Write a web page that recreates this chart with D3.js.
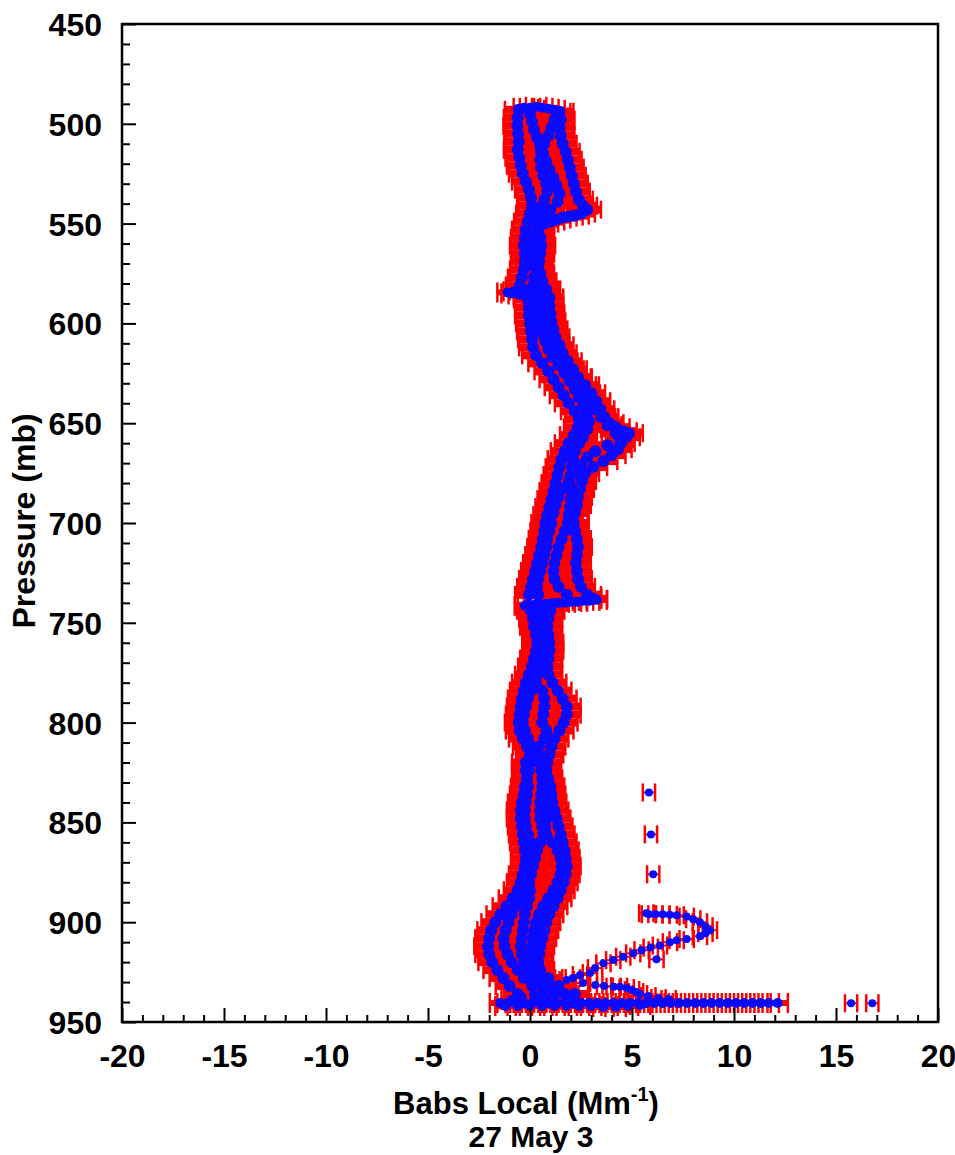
<!DOCTYPE html>
<html>
<head>
<meta charset="utf-8">
<script src="https://cdn.jsdelivr.net/npm/d3@7"></script>
<style>
  html, body { margin: 0; padding: 0; background: #fff; }
  svg { display: block; }
  text { font-family: "Liberation Sans", Arial, Helvetica, sans-serif; font-weight: bold; fill: #000; }
</style>
</head>
<body>
<svg id="chart" width="955" height="1155"></svg>
<script>
// ---------------- DATA (pressure mb, Babs Mm^-1) ----------------
const xTicks = [-20, -15, -10, -5, 0, 5, 10, 15, 20];
const yTicks = [450, 500, 550, 600, 650, 700, 750, 800, 850, 900, 950];
const xTitle = "Babs Local (Mm";
const xTitleSup = "-1";
const subTitle = "27 May 3";
const yTitle = "Pressure (mb)";

const profileA = [[493,-0.55],[497,-0.6],[501,-0.62],[505,-0.58],[509,-0.55],[513,-0.6],[517,-0.52],[521,-0.45],[525,-0.35],[529,-0.2],[533,-0.05],[537,0.05],[541,0.1],[545,0.0],[549,-0.1],[553,-0.2],[557,-0.25],[561,-0.3],[565,-0.25],[569,-0.25],[573,-0.3],[577,-0.4],[581,-0.5],[588,-0.1],[592,-0.05],[596,-0.05],[600,0.0],[604,0.05],[608,0.1],[612,0.15],[616,0.3],[620,0.6],[624,0.9],[628,1.15],[632,1.4],[636,1.65],[640,1.9],[644,2.2],[648,2.4],[652,2.35],[656,2.15],[660,1.9],[664,1.7],[668,1.55],[672,1.45],[676,1.35],[680,1.25],[684,1.15],[688,1.05],[692,0.95],[696,0.85],[700,0.75],[704,0.7],[708,0.62],[712,0.55],[716,0.45],[720,0.35],[724,0.25],[728,0.15],[732,0.05],[736,-0.05],[744,0.05],[748,0.15],[752,0.3],[756,0.4],[760,0.4],[764,0.35],[768,0.25],[772,0.1],[776,-0.05],[780,-0.2],[784,-0.3],[788,-0.4],[792,-0.45],[796,-0.5],[800,-0.55],[804,-0.5],[808,-0.35],[812,-0.15],[816,0.0],[820,0.05],[824,-0.05],[828,-0.15],[832,-0.25],[836,-0.3],[840,-0.4],[844,-0.45],[848,-0.45],[852,-0.4],[856,-0.35],[860,-0.3],[864,-0.25],[868,-0.2],[872,-0.25],[876,-0.35],[880,-0.45],[884,-0.6],[888,-0.85],[892,-1.15],[896,-1.45],[900,-1.7],[904,-1.9],[908,-2.0],[912,-2.05],[916,-2.0],[920,-1.85],[924,-1.6],[928,-1.3],[932,-1.0],[936,-0.6]];

const profileB = [[495,0.0],[499,0.1],[503,0.2],[507,0.35],[511,0.5],[515,0.65],[519,0.8],[523,0.95],[527,1.15],[531,1.3],[535,1.45],[539,1.35],[543,1.0],[547,0.7],[551,0.45],[555,0.3],[559,0.25],[563,0.2],[567,0.3],[571,0.4],[575,0.5],[579,0.6],[583,0.7],[587,0.7],[591,0.75],[595,0.8],[599,0.9],[603,1.0],[607,1.1],[611,1.25],[615,1.4],[619,1.65],[623,1.95],[627,2.3],[631,2.7],[635,3.0],[639,3.25],[643,3.45],[647,3.65],[650,3.9],[652,4.2],[654,4.55],[655,4.85],[657,4.7],[660,4.45],[663,4.3],[666,4.0],[669,3.6],[672,3.1],[675,2.7],[679,2.55],[683,2.45],[687,2.35],[691,2.3],[695,2.2],[700,2.15],[704,2.2],[708,2.3],[712,2.35],[716,2.3],[720,2.25],[724,2.3],[728,2.35],[732,2.5],[736,2.8],[738,3.1],[744,1.0],[748,0.9],[752,0.85],[756,0.9],[760,0.95],[764,0.95],[768,0.9],[772,0.85],[776,0.9],[780,1.1],[784,1.35],[788,1.6],[792,1.8],[796,1.8],[800,1.65],[804,1.45],[808,1.2],[812,1.05],[816,0.95],[820,0.85],[824,0.8],[828,0.8],[832,0.85],[836,0.9],[840,0.9],[844,0.85],[848,0.8],[852,0.75],[856,0.65],[860,0.5],[864,0.35],[868,0.25],[872,0.15],[876,0.05],[880,-0.05],[884,-0.2],[888,-0.45],[892,-0.7],[896,-0.9],[900,-1.05],[904,-1.2],[908,-1.3],[912,-1.25],[916,-1.1],[920,-0.9],[924,-0.6],[928,-0.3],[932,0.1],[936,0.6]];

const profileC = [[494,1.3],[498,1.2],[502,1.05],[506,0.9],[510,0.7],[514,0.55],[518,0.5],[522,0.55],[526,0.65],[530,0.8],[534,0.85],[538,0.7],[542,0.5],[546,0.35],[550,0.35],[553,0.4],[557,0.5],[561,0.55],[565,0.5],[569,0.45],[573,0.35],[577,0.2],[581,0.15],[585,0.2],[589,0.3],[593,0.35],[597,0.45],[601,0.5],[605,0.6],[609,0.75],[613,0.9],[617,1.1],[621,1.4],[625,1.7],[629,1.95],[633,2.2],[637,2.4],[641,2.6],[645,2.8],[649,2.9],[653,2.8],[657,2.6],[660,2.4],[664,2.2],[668,2.1],[672,2.05],[676,2.0],[680,1.95],[684,2.0],[688,2.0],[692,1.95],[696,1.9],[700,1.85],[704,1.7],[708,1.55],[712,1.4],[716,1.3],[720,1.2],[724,1.15],[728,1.2],[732,1.4],[736,1.8],[744,0.6],[748,0.55],[752,0.6],[756,0.65],[760,0.7],[764,0.65],[768,0.55],[772,0.45],[776,0.35],[780,0.2],[784,0.05],[788,-0.1],[792,-0.2],[796,-0.3],[800,-0.35],[804,-0.25],[808,-0.1],[812,0.1],[816,0.3],[820,0.45],[824,0.55],[828,0.6],[832,0.6],[836,0.55],[840,0.5],[844,0.5],[848,0.5],[852,0.6],[856,0.8],[860,1.1],[864,1.35],[868,1.5],[872,1.55],[876,1.5],[880,1.35],[884,1.15],[888,0.9],[892,0.65],[896,0.45],[900,0.3],[904,0.2],[908,0.15],[912,0.1],[916,0.05],[920,0.1],[924,0.25],[928,0.55],[932,1.0],[936,1.7]];

const profileD = [[494,1.45],[498,1.5],[502,1.45],[506,1.5],[510,1.6],[514,1.75],[518,1.85],[522,1.95],[526,2.05],[530,2.15],[534,2.25],[538,2.4],[541,2.6],[543,2.8],[545,2.5],[546,2.2],[546.5,1.9],[547,1.6],[548,1.3],[549,1.0],[550,0.7],[551,0.5],[555,0.2],[559,0.05],[563,-0.05],[567,0.0],[571,0.15],[575,0.35],[579,0.6],[583,0.8],[587,0.95],[591,0.95],[595,1.0],[599,1.05],[603,1.15],[607,1.25],[611,1.45],[615,1.6],[619,1.85],[623,2.1],[627,2.35],[631,2.55],[635,2.75],[639,2.95],[643,3.2],[647,3.5],[651,3.8],[655,4.2],[658,4.4],[661,3.8],[664,3.2],[667,2.8],[671,2.5],[675,2.3],[679,1.9],[683,1.6],[687,1.4],[691,1.25],[695,1.15],[700,1.05],[704,0.95],[708,0.85],[712,0.8],[716,0.7],[720,0.6],[724,0.5],[728,0.4],[732,0.35],[736,0.4],[744,0.3],[748,0.25],[752,0.2],[756,0.3],[760,0.35],[764,0.3],[768,0.2],[772,0.1],[776,0.1],[780,0.3],[784,0.6],[788,0.7],[792,0.7],[796,0.65],[800,0.6],[804,0.8],[808,0.7],[812,0.45],[816,0.4],[820,0.5],[824,0.7],[828,0.9],[832,1.0],[836,1.05],[840,1.1],[844,1.2],[848,1.3],[852,1.4],[856,1.5],[860,1.6],[864,1.7],[868,1.75],[872,1.8],[876,1.75],[880,1.65],[884,1.5],[888,1.35],[892,1.15],[896,0.95],[900,0.8],[904,0.7],[908,0.6],[912,0.5],[916,0.45],[920,0.4],[924,0.5],[928,0.9],[932,1.4],[936,2.2]];

const profileE = [[820,-0.2],[824,-0.2],[828,-0.15],[832,-0.1],[836,-0.15],[840,-0.2],[844,-0.25],[848,-0.25],[852,-0.2],[856,-0.1],[860,0.0],[864,0.1],[868,0.15],[872,0.1],[876,0.0],[880,-0.05],[884,0.0],[888,-0.05],[892,-0.15],[896,-0.25],[900,-0.3],[904,-0.35],[908,-0.4],[912,-0.45],[916,-0.4],[920,-0.3],[924,-0.1],[928,0.2],[932,0.6],[936,1.2]];

const topLeg = [[492,-0.3],[492,0.0],[491.5,0.3],[492,0.6],[492.5,0.9],[493,1.2]];
const leg584 = [[582.5,0.2],[583,-0.2],[583.5,-0.5],[584,-0.8],[584.5,-1.1],[585,-0.9],[585.5,-0.55],[586,-0.3]];
const leg740 = [[738,3.0],[738.5,3.27],[739,2.9],[739,2.6],[739.5,2.3],[739.5,2.0],[740,1.7],[740,1.4],[740,1.1],[740.5,0.8],[740.5,0.5],[741,0.2],[741,-0.1],[741.5,-0.25]];

const hook = [[895.5,5.7],[896,5.83],[896,6.15],[896,6.5],[896.3,6.85],[896.5,7.19],[897.2,7.68],[898.5,8.0],[900,8.33],[902,8.6],[904,8.82],[905.5,8.6],[907,8.33],[908.4,7.68],[909,7.19],[910,6.86],[911.7,6.37],[912.7,5.92],[914,5.47],[915.6,5.06],[917.3,4.57],[919,4.08],[920.6,3.6],[923,3.19],[925.5,2.94],[926.5,2.45],[928,2.1],[929,1.8],[918.6,6.2]];
const lowerBranch = [[930.5,2.6],[931.5,3.2],[932,3.63],[932.3,4.1],[932.3,4.41],[933,4.74],[934,5.0],[935,5.2],[936,5.39],[937,5.8],[938,6.3],[938.5,6.8]];

const bottomLeg = [[940.5,-1.47],[940.5,-1.1],[940.5,-0.7],[940.5,-0.3],[940.5,0.1],[940.5,0.5],[940.5,0.9],[940.5,1.3],[940.5,1.7],[940.5,2.1],[940.5,2.5],[940.5,2.9],[940.5,3.3],[940.5,3.7],[940.5,4.1],[940.5,4.5],[940.5,4.9],[940.5,5.3],[940.5,5.7],[940.5,6.1],[940.5,6.5],[940.5,6.9],[940.5,7.3],[940.5,7.7],[940.5,8.1],[940.5,8.5],[940.5,8.9],[940.5,9.3],[940.5,9.7],[940.5,10.1],[940.5,10.5],[940.5,10.9],[940.5,11.3],[940.5,11.7],[940.5,12.14],[942,-1.2],[942,-0.6],[942,0.0],[942,0.6],[942,1.2],[942,1.8],[942,2.4],[942,3.0],[942.5,3.6],[942.5,4.2],[942,4.8],[941.5,5.4],[939,-0.9],[939,0.3],[938,1.0],[939,2.0],[937.5,-0.4],[936.5,0.2]];

const isolated = [[835,5.83],[856,5.93],[876,6.04],[940.6,15.74],[940.6,16.78]];

// uncertainty (half-width, Mm^-1) per group
const errProfiles = 0.68;
const errLegs = 0.5;
const errHook = 0.35;
const errSparse = 0.3;

// ---------------- CHART ----------------
const svg = d3.select("#chart");
const L = 122, R = 938, T = 24, B = 1022;
const x = d3.scaleLinear().domain([-20, 20]).range([L, R]);
const y = d3.scaleLinear().domain([450, 950]).range([T, B]);

// style per group: dot radius, bar stroke, cap stroke, cap half height
const dense = {r: 6, bw: 8, cw: 2.5, ch: 9};
const legSt = {r: 5, bw: 6, cw: 2.5, ch: 10};
const thin = {r: 4, bw: 2, cw: 2.5, ch: 9};
const groups = [
  {data: profileA, err: errProfiles, st: dense},
  {data: profileB, err: errProfiles, st: dense},
  {data: profileC, err: errProfiles, st: dense},
  {data: profileD, err: errProfiles, st: dense},
  {data: profileE, err: errProfiles, st: dense},
  {data: topLeg, err: errLegs, st: legSt},
  {data: leg584, err: errLegs, st: legSt},
  {data: leg740, err: errLegs, st: legSt},
  {data: hook, err: errHook, st: thin},
  {data: lowerBranch, err: errHook, st: thin},
  {data: bottomLeg, err: errLegs, st: legSt},
  {data: isolated, err: errSparse, st: thin}
];
const pts = [];
groups.forEach(g => g.data.forEach(d => pts.push({p: d[0], v: d[1], e: g.err, st: g.st})));

const errG = svg.append("g").attr("stroke", "#ff0000");
pts.forEach(d => {
  const cy = y(d.p), x0 = x(d.v - d.e), x1 = x(d.v + d.e), s = d.st;
  errG.append("line").attr("x1", x0).attr("x2", x1).attr("y1", cy).attr("y2", cy).attr("stroke-width", s.bw);
  errG.append("line").attr("x1", x0).attr("x2", x0).attr("y1", cy - s.ch).attr("y2", cy + s.ch).attr("stroke-width", s.cw);
  errG.append("line").attr("x1", x1).attr("x2", x1).attr("y1", cy - s.ch).attr("y2", cy + s.ch).attr("stroke-width", s.cw);
});
svg.append("g").selectAll("circle").data(pts).join("circle")
  .attr("cx", d => x(d.v)).attr("cy", d => y(d.p)).attr("r", d => d.st.r)
  .attr("fill", "#0a0aff");

// axes: inward ticks on left & bottom
const fs = 32;
const fmt = d => String(d);
const xMajor = d3.axisBottom(x).tickValues(xTicks).tickSize(-14).tickFormat(fmt);
const xMinor = d3.axisBottom(x).tickValues(d3.range(-20, 21, 1).filter(v => v % 5 !== 0)).tickSize(-7).tickFormat("");
const yMajor = d3.axisLeft(y).tickValues(yTicks).tickSize(-14).tickFormat(fmt);
const yMinor = d3.axisLeft(y).tickValues(d3.range(450, 951, 10).filter(v => v % 50 !== 0)).tickSize(-8).tickFormat("");

function styleAxis(g) {
  g.select(".domain").remove();
  g.selectAll(".tick line").attr("stroke", "#000").attr("stroke-width", 2);
  g.selectAll("text").attr("font-size", fs).attr("font-family", "Liberation Sans, Arial, sans-serif").attr("font-weight", "bold").attr("fill", "#000");
}
svg.append("g").attr("transform", `translate(0,${B})`).call(xMinor).call(styleAxis);
svg.append("g").attr("transform", `translate(0,${B})`).call(xMajor).call(styleAxis)
  .selectAll("text").attr("dy", null).attr("y", 45);
svg.append("g").attr("transform", `translate(${L},0)`).call(yMinor).call(styleAxis);
svg.append("g").attr("transform", `translate(${L},0)`).call(yMajor).call(styleAxis)
  .selectAll("text").attr("x", -20).attr("dy", "0.36em");

svg.append("rect").attr("x", L).attr("y", T).attr("width", R - L).attr("height", B - T)
  .attr("fill", "none").attr("stroke", "#000").attr("stroke-width", 2.5);

// titles
const xt = svg.append("text").attr("x", 526).attr("y", 1114).attr("text-anchor", "middle").attr("font-size", 31);
xt.append("tspan").text(xTitle);
xt.append("tspan").attr("font-size", 20).attr("dy", -13).text(xTitleSup);
xt.append("tspan").attr("dy", 13).text(")");
svg.append("text").attr("x", 531).attr("y", 1147).attr("text-anchor", "middle").attr("font-size", 30).text(subTitle);
svg.append("text").attr("transform", "translate(35,521) rotate(-90)").attr("text-anchor", "middle")
  .attr("font-size", 32).text(yTitle);
</script>
</body>
</html>
